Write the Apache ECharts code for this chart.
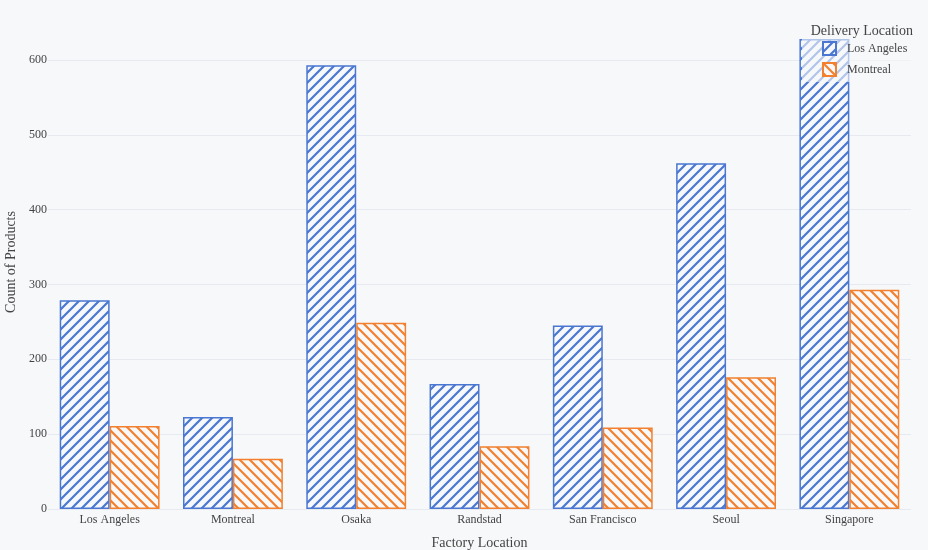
<!DOCTYPE html>
<html>
<head>
<meta charset="utf-8">
<script src="https://cdn.jsdelivr.net/npm/echarts@6/dist/echarts.min.js"></script>
<style>
html,body{margin:0;padding:0;background:#f7f8fa;}
#chart{width:928px;height:550px;}
</style>
</head>
<body>
<div id="chart"></div>
<script>
const categories = ['Los Angeles', 'Montreal', 'Osaka', 'Randstad', 'San Francisco', 'Seoul', 'Singapore'];
const seriesNames = ['Los Angeles', 'Montreal'];
const losAngeles = [279, 123, 593, 167, 245, 462, 628];
const montreal = [111, 67, 249, 84, 109, 176, 293];
const yTicks = [0, 100, 200, 300, 400, 500, 600];

const BG = '#f7f8fa';
const BLUE = '#4a77d2';
const ORANGE = '#f2802f';
const TEXT = '#444';
const GRID = '#e6e9ef';
const FONT = '"Liberation Serif", "DejaVu Serif", serif';

function hatch(color, forward) {
  const s = 10;
  const c = document.createElement('canvas');
  c.width = s; c.height = s;
  const ctx = c.getContext('2d');
  ctx.fillStyle = BG;
  ctx.fillRect(0, 0, s, s);
  ctx.strokeStyle = color;
  ctx.lineWidth = 2.2;
  ctx.beginPath();
  if (forward) {
    ctx.moveTo(0, s); ctx.lineTo(s, 0);
    ctx.moveTo(-2, 2); ctx.lineTo(2, -2);
    ctx.moveTo(s - 2, s + 2); ctx.lineTo(s + 2, s - 2);
  } else {
    ctx.moveTo(0, 0); ctx.lineTo(s, s);
    ctx.moveTo(-2, s - 2); ctx.lineTo(2, s + 2);
    ctx.moveTo(s - 2, -2); ctx.lineTo(s + 2, 2);
  }
  ctx.stroke();
  return { image: c, repeat: 'repeat' };
}

const chart = echarts.init(document.getElementById('chart'));
chart.setOption({
  backgroundColor: BG,
  animation: false,
  textStyle: { fontFamily: FONT, color: TEXT },
  title: {
    text: 'Delivery Location',
    right: 10, top: 19,
    z: 200,
    textStyle: { fontFamily: FONT, fontSize: 14, fontWeight: 'normal', color: TEXT }
  },
  legend: {
    data: seriesNames,
    orient: 'vertical',
    left: 817, top: 36,
    itemWidth: 13, itemHeight: 13, itemGap: 6,
    icon: 'rect',
    z: 200,
    textStyle: { fontFamily: FONT, fontSize: 12, color: TEXT, padding: [0, 0, 0, 6] }
  },
  graphic: [{
    type: 'rect', z: 100,
    shape: { x: 802, y: 12, width: 126, height: 70 },
    style: { fill: 'rgba(247,248,250,0.6)' }
  }],
  grid: { left: 48, right: 17, top: 15, bottom: 41, containLabel: false, outerBoundsMode: 'none' },
  xAxis: {
    type: 'category',
    data: categories,
    axisLine: { show: false },
    axisTick: { show: false },
    axisLabel: { fontFamily: FONT, fontSize: 12, color: TEXT, margin: 5 },
    name: 'Factory Location',
    nameLocation: 'middle',
    nameGap: 27,
    nameTextStyle: { fontFamily: FONT, fontSize: 14, color: TEXT }
  },
  yAxis: {
    type: 'value',
    min: yTicks[0], max: 660, interval: 100,
    axisLine: { show: false },
    axisTick: { show: false },
    axisLabel: { fontFamily: FONT, fontSize: 12, color: TEXT, margin: 1, showMaxLabel: false },
    splitLine: { show: true, showMaxLine: false, lineStyle: { color: GRID, width: 1 } },
    name: 'Count of Products',
    nameLocation: 'middle',
    nameGap: 29,
    nameTextStyle: { fontFamily: FONT, fontSize: 14, color: TEXT }
  },
  series: [
    {
      name: seriesNames[0], type: 'bar', data: losAngeles,
      barGap: '0%', barCategoryGap: '19%',
      itemStyle: { color: hatch(BLUE, true), borderColor: BLUE, borderWidth: 1.5 }
    },
    {
      name: seriesNames[1], type: 'bar', data: montreal,
      barGap: '0%', barCategoryGap: '19%',
      itemStyle: { color: hatch(ORANGE, false), borderColor: ORANGE, borderWidth: 1.5 }
    }
  ]
});
</script>
</body>
</html>
